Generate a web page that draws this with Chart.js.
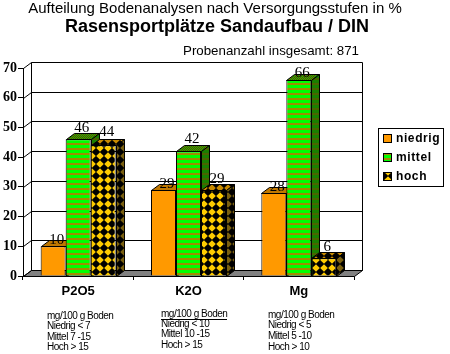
<!DOCTYPE html>
<html><head><meta charset="utf-8">
<style>html,body{margin:0;padding:0;background:#fff}canvas{display:block}</style>
<script src="https://cdn.jsdelivr.net/npm/chart.js@4"></script>
</head><body><canvas id="c" width="450" height="354"></canvas>
<script>
const categories = ["P2O5", "K2O", "Mg"];
const niedrig = [10, 29, 28];
const mittel = [46, 42, 66];
const hoch = [44, 29, 6];
const seriesNames = ["niedrig", "mittel", "hoch"];
const yTicks = [0, 10, 20, 30, 40, 50, 60, 70];
const notes = [
  ["mg/100 g Boden", "Niedrig < 7", "Mittel 7 -15", "Hoch > 15"],
  ["mg/100 g Boden", "Niedrig < 10", "Mittel 10 -15", "Hoch > 15"],
  ["mg/100 g Boden", "Niedrig < 5", "Mittel 5 -10", "Hoch > 10"]
];
const noteX = [47, 161, 268];
const noteY = [[316, 326.5, 337.5, 347.5], [314, 324, 334.5, 345.5], [315, 325.5, 336.5, 347]];
const labelLift = [[1, 1, 1], [6, 7, 2], [8, 6, 6]];

const DX = 8, DY = 6;
function tile(w, h, draw) {
  const c = document.createElement('canvas'); c.width = w; c.height = h;
  draw(c.getContext('2d'), w, h);
  return document.createElement('canvas').getContext('2d').createPattern(c, 'repeat');
}
const stripes = (a, b) => tile(1, 5, (g) => { g.fillStyle = a; g.fillRect(0, 0, 1, 3); g.fillStyle = b; g.fillRect(0, 3, 1, 2); });
const checker = (a, b) => tile(2, 2, (g) => { g.fillStyle = a; g.fillRect(0, 0, 2, 2); g.fillStyle = b; g.fillRect(0, 0, 1, 1); g.fillRect(1, 1, 1, 1); });
const diamonds = (bg, fg) => tile(8, 8, (g) => {
  g.fillStyle = bg; g.fillRect(0, 0, 8, 8); g.fillStyle = fg;
  g.beginPath(); g.moveTo(4, 0.2); g.lineTo(7.8, 4); g.lineTo(4, 7.8); g.lineTo(0.2, 4); g.closePath(); g.fill();
});
const fronts = ['#ff9900', stripes('#00ff00', '#a08c00'), diamonds('#000000', '#ffcc00')];
const tops = ['#c07800', checker('#00a000', '#806000'), diamonds('#000000', '#c88a00')];
const sides = ['#a86a00', stripes('#1a8000', '#4a6400'), diamonds('#000000', '#7a6010')];

function poly(ctx, pts, fill) {
  ctx.beginPath();
  pts.forEach((p, i) => i ? ctx.lineTo(p[0], p[1]) : ctx.moveTo(p[0], p[1]));
  ctx.closePath();
  ctx.fillStyle = fill; ctx.fill();
  ctx.lineWidth = 1; ctx.strokeStyle = '#000'; ctx.stroke();
}
function text(ctx, s, x, y, font, align, spacing) {
  ctx.font = font; ctx.textAlign = align || 'left'; ctx.textBaseline = 'middle';
  ctx.letterSpacing = spacing || '0px'; ctx.fillStyle = '#000';
  ctx.fillText(s, x, y); ctx.letterSpacing = '0px';
}

const chart3d = {
  id: 'chart3d',
  beforeDatasetDraw() { return false; },
  beforeDatasetsDraw(chart) {
    const { ctx, chartArea: a, scales: { y } } = chart;
    ctx.save();
    const L = Math.round(a.left) + .5, R = Math.round(a.right) + .5, B = Math.round(a.bottom) + .5, T = Math.round(a.top) + .5;
    poly(ctx, [[L + DX, B - DY], [R + DX, B - DY], [R, B], [L, B]], '#808080');
    ctx.strokeStyle = '#000'; ctx.lineWidth = 1;
    ctx.beginPath();
    ctx.rect(L + DX, T - DY, R - L, B - T);
    y.ticks.forEach(t => {
      const py = Math.round(y.getPixelForValue(t.value)) + .5;
      ctx.moveTo(L, py); ctx.lineTo(L + DX, py - DY);
      if (t.value > 0 && t.value < 70) { ctx.moveTo(L + DX, py - DY); ctx.lineTo(R + DX, py - DY); }
    });
    ctx.stroke();
    // bars left to right so each bar covers the side of its left neighbour
    chart.data.datasets.forEach((ds, i) => {
      const meta = chart.getDatasetMeta(i);
      meta.controller.draw();
      meta.data.forEach(bar => {
        const l = Math.round(bar.x - bar.width / 2) + .5, r = Math.round(bar.x + bar.width / 2) + .5;
        const t = Math.round(bar.y) + .5, b = Math.round(y.getPixelForValue(0)) + .5;
        poly(ctx, [[l, t], [l + DX, t - DY], [r + DX, t - DY], [r, t]], tops[i]);
        poly(ctx, [[r, t], [r + DX, t - DY], [r + DX, b - DY], [r, b]], sides[i]);
      });
    });
    ctx.restore();
  },
  afterDatasetsDraw(chart) {
    const ctx = chart.ctx;
    ctx.save();
    chart.data.datasets.forEach((ds, i) => {
      chart.getDatasetMeta(i).data.forEach((bar, j) => {
        const py = bar.y - labelLift[i][j] - 5;
        text(ctx, String(ds.data[j]), bar.x + 3.5, py, '15px "Liberation Serif"', 'center');
      });
    });
    // titles
    text(ctx, 'Aufteilung Bodenanalysen nach Versorgungsstufen in %', 215, 8.5, '15px "Liberation Sans"', 'center');
    text(ctx, 'Rasensportplätze Sandaufbau / DIN', 217, 27, 'bold 18px "Liberation Sans"', 'center');
    text(ctx, 'Probenanzahl insgesamt: 871', 271, 51, '13.3px "Liberation Sans"', 'center');
    // legend
    ctx.fillStyle = '#fff'; ctx.strokeStyle = '#000'; ctx.lineWidth = 1;
    ctx.fillRect(378.5, 128.5, 65, 58); ctx.strokeRect(378.5, 128.5, 65, 58);
    const ly = [139, 158, 177];
    chart.data.datasets.forEach((ds, i) => {
      ctx.fillStyle = fronts[i]; ctx.fillRect(383.5, ly[i] - 4.5, 8, 8);
      ctx.strokeStyle = '#000'; ctx.strokeRect(383.5, ly[i] - 4.5, 8, 8);
      text(ctx, ds.label, 396, ly[i], 'bold 12px "Liberation Sans"', 'left', '0.6px');
    });
    // notes under the axis
    notes.forEach((col, c) => col.forEach((line, k) => {
      text(ctx, line, noteX[c], noteY[c][k], '10px "Liberation Sans"', 'left', '-0.5px');
      if (c === 1 && k === 0) {
        ctx.strokeStyle = '#000'; ctx.beginPath();
        ctx.moveTo(noteX[c], noteY[c][k] + 5.5); ctx.lineTo(noteX[c] + 66, noteY[c][k] + 5.5); ctx.stroke();
      }
    }));
    ctx.restore();
  }
};

new Chart(document.getElementById('c'), {
  type: 'bar',
  data: {
    labels: categories,
    datasets: [niedrig, mittel, hoch].map((d, i) => ({
      label: seriesNames[i], data: d,
      backgroundColor: fronts[i], borderColor: '#000', borderWidth: 1,
      categoryPercentage: 0.68, barPercentage: 1
    }))
  },
  plugins: [chart3d],
  options: {
    responsive: false, animation: false,
    layout: { padding: { top: 68, right: 96, left: 0, bottom: 0 } },
    plugins: { legend: { display: false }, title: { display: false }, tooltip: { enabled: false } },
    scales: {
      x: {
        grid: { drawOnChartArea: false, color: '#000', tickLength: 4, offset: true },
        border: { color: '#000' },
        ticks: { color: '#000', font: { family: '"Liberation Sans"', weight: 'bold', size: 13 }, padding: 4 },
        afterFit(s) { s.height = 78; }
      },
      y: {
        min: 0, max: 70,
        afterBuildTicks(s) { s.ticks = yTicks.map(v => ({ value: v })); },
        grid: { drawOnChartArea: false, color: '#000', tickLength: 5 },
        border: { color: '#000' },
        ticks: { color: '#000', font: { family: '"Liberation Serif"', weight: 'bold', size: 14 }, padding: 1 },
        afterFit(s) { s.width = 23; }
      }
    }
  }
});
</script></body></html>
